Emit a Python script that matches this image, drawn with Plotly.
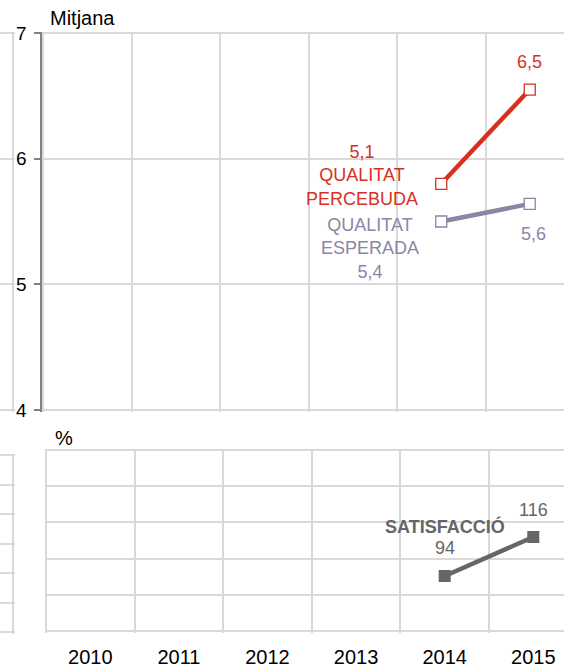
import plotly.graph_objects as go

# ---- data ----
years = [2010, 2011, 2012, 2013, 2014, 2015]
year_labels = ["2010", "2011", "2012", "2013", "2014", "2015"]

percebuda = [None, None, None, None, 5.80, 6.55]
esperada = [None, None, None, None, 5.50, 5.64]
satisfaccio = [None, None, None, None, 94, 116]

percebuda_labels = ["5,1", "6,5"]
esperada_labels = ["5,4", "5,6"]
satisfaccio_labels = ["94", "116"]

mean_ticks = [4, 5, 6, 7]
pct_range = [63, 165]
pct_step = 20.4

# ---- styling ----
W, H = 564, 667
RED = "#d7301f"
PURP = "#8c85a6"
GREY = "#666666"
GRID = "#d9d9d9"
FONT = "Liberation Sans, Arial, sans-serif"
PAD = 1.5  # px padding so edge grid lines are drawn


def vspan(v0, v1, p_lo, p_hi, pad=PAD):
    """vertical axis: value v0 at pixel p_lo (bottom), v1 at p_hi (top)."""
    per = (v1 - v0) / (p_lo - p_hi)
    dom = [1 - (p_lo + pad) / H, 1 - (p_hi - pad) / H]
    rng = [v0 - pad * per, v1 + pad * per]
    return dom, rng


def hspan(v0, per_px, p_left, p_right=W, pad=PAD):
    dom = [(p_left - pad) / W, p_right / W]
    rng = [v0 - pad * per_px, v0 + (p_right - p_left) * per_px]
    return dom, rng


step = 88.5
top_xdom, top_xrng = hspan(years[0] - 0.5, 1 / step, 43)
bot_xdom, bot_xrng = hspan(years[0] - 0.5, 1 / 88.6, 46)
top_ydom, top_yrng = vspan(mean_ticks[0], mean_ticks[-1], 410, 33)
bot_ydom, bot_yrng = vspan(pct_range[0], pct_range[1], 631, 450)
rem_top_ydom, rem_top_yrng = top_ydom, top_yrng
rem_bot_ydom, rem_bot_yrng = vspan(0, 6, 632, 455)

fig = go.Figure()

fig.add_trace(go.Scatter(
    x=years, y=percebuda, mode="lines+markers", xaxis="x", yaxis="y",
    line=dict(color=RED, width=4.5),
    marker=dict(symbol="square", size=11, color="white", line=dict(color=RED, width=1.3)),
    showlegend=False, hoverinfo="skip"))
fig.add_trace(go.Scatter(
    x=years, y=esperada, mode="lines+markers", xaxis="x", yaxis="y",
    line=dict(color=PURP, width=4.5),
    marker=dict(symbol="square", size=11, color="white", line=dict(color=PURP, width=1.3)),
    showlegend=False, hoverinfo="skip"))
fig.add_trace(go.Scatter(
    x=years, y=satisfaccio, mode="lines+markers", xaxis="x2", yaxis="y2",
    line=dict(color=GREY, width=4.5),
    marker=dict(symbol="square", size=12, color=GREY),
    showlegend=False, hoverinfo="skip"))
# remnant panels on the left edge
fig.add_trace(go.Scatter(x=[], y=[], xaxis="x3", yaxis="y3", showlegend=False))
fig.add_trace(go.Scatter(x=[], y=[], xaxis="x4", yaxis="y4", showlegend=False))

grid = dict(showgrid=True, gridcolor=GRID, gridwidth=1.5, zeroline=False, automargin=False)

fig.update_layout(
    width=W, height=H,
    margin=dict(l=0, r=0, t=0, b=0),
    paper_bgcolor="white", plot_bgcolor="white",
    font=dict(family=FONT, color="black"),
    xaxis=dict(
        domain=top_xdom, anchor="y", range=top_xrng,
        showgrid=False, zeroline=False, showticklabels=False, ticks="", automargin=False,
        minor=dict(showgrid=True, tick0=years[0] - 0.5, dtick=1, gridcolor=GRID, gridwidth=1.5),
    ),
    yaxis=dict(
        domain=top_ydom, anchor="x", range=top_yrng, tickvals=mean_ticks,
        **grid,
        showline=True, linecolor="#808080", linewidth=2,
        ticks="outside", ticklen=6, tickcolor="#808080", tickwidth=1.5,
        tickfont=dict(size=19, color="black"), ticklabelstandoff=3,
    ),
    xaxis2=dict(
        domain=bot_xdom, anchor="y2", range=bot_xrng,
        tickvals=years, ticktext=year_labels, ticks="",
        tickfont=dict(size=20, color="black"), ticklabelstandoff=10,
        showgrid=False, zeroline=False, automargin=False,
        minor=dict(showgrid=True, tick0=years[0] - 0.5, dtick=1, gridcolor=GRID, gridwidth=1.5),
    ),
    yaxis2=dict(
        domain=bot_ydom, anchor="x2", range=bot_yrng, tick0=pct_range[0], dtick=pct_step,
        showticklabels=False, **grid,
    ),
    xaxis3=dict(
        domain=[0, 15 / W], anchor="y3", range=[0, 15], tickvals=[12.5],
        showticklabels=False, **grid,
    ),
    yaxis3=dict(
        domain=rem_top_ydom, anchor="x3", range=rem_top_yrng, tickvals=mean_ticks,
        showticklabels=False, **grid,
    ),
    xaxis4=dict(
        domain=[0, 15 / W], anchor="y4", range=[0, 15], tickvals=[13],
        showticklabels=False, **grid,
    ),
    yaxis4=dict(
        domain=rem_bot_ydom, anchor="x4", range=rem_bot_yrng, tick0=0, dtick=1,
        showticklabels=False, **grid,
    ),
)

LBL = 18
ann = []
# titles
ann.append(dict(text="Mitjana", xref="paper", yref="paper", x=48 / W, y=1 - 17.5 / H,
                xanchor="left", yanchor="middle", showarrow=False, font=dict(size=20, color="black")))
ann.append(dict(text="%", xref="paper", yref="paper", x=53 / W, y=1 - 438 / H,
                xanchor="left", yanchor="middle", showarrow=False, font=dict(size=20, color="black")))
# Qualitat percebuda
ann.append(dict(text=percebuda_labels[1], x=years[5], y=percebuda[5], xref="x", yref="y",
                showarrow=False, yshift=28, font=dict(size=LBL, color=RED)))
ann.append(dict(text=percebuda_labels[0] + "<br>QUALITAT<br>PERCEBUDA", x=years[4], y=percebuda[4],
                xref="x", yref="y", showarrow=False, xshift=-79, yshift=8, align="center",
                font=dict(size=LBL, color=RED)))
# Qualitat esperada
ann.append(dict(text="QUALITAT<br>ESPERADA<br>" + esperada_labels[0], x=years[4], y=esperada[4],
                xref="x", yref="y", showarrow=False, xshift=-71, yshift=-27, align="center",
                font=dict(size=LBL, color=PURP)))
ann.append(dict(text=esperada_labels[1], x=years[5], y=esperada[5], xref="x", yref="y",
                showarrow=False, xshift=4, yshift=-30, font=dict(size=LBL, color=PURP)))
# Satisfaccio
ann.append(dict(text="<b>SATISFACCIÓ</b>", x=years[4], y=satisfaccio[4], xref="x2", yref="y2",
                showarrow=False, yshift=49, font=dict(size=LBL, color=GREY)))
ann.append(dict(text=satisfaccio_labels[0], x=years[4], y=satisfaccio[4], xref="x2", yref="y2",
                showarrow=False, yshift=28, font=dict(size=LBL, color=GREY)))
ann.append(dict(text=satisfaccio_labels[1], x=years[5], y=satisfaccio[5], xref="x2", yref="y2",
                showarrow=False, yshift=27, font=dict(size=LBL, color=GREY)))

fig.update_layout(annotations=ann)

fig.write_html(
    "out.html",
    config={"displayModeBar": False},
    post_script="document.body.style.margin='0';document.body.style.overflow='hidden';",
)
